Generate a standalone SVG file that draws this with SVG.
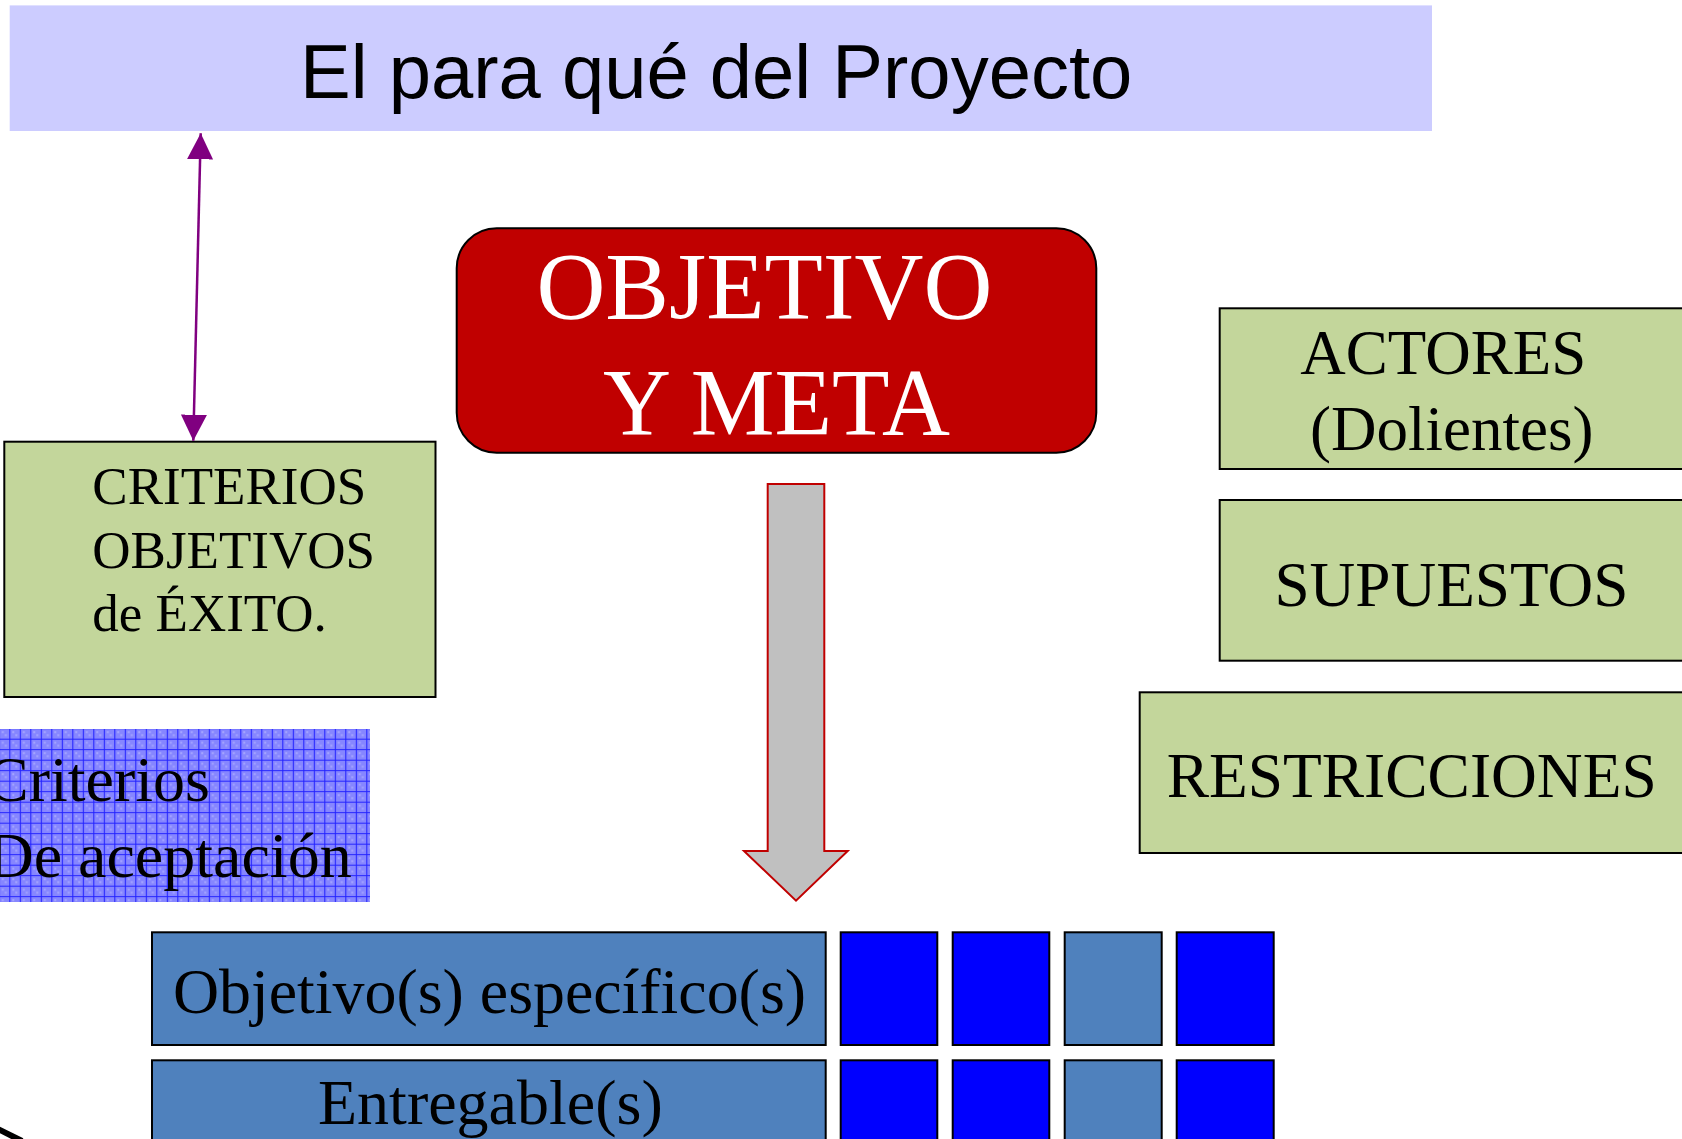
<svg xmlns="http://www.w3.org/2000/svg" width="1682" height="1139" viewBox="0 0 1682 1139">
<style>
.serif{font-family:"Liberation Serif","Times New Roman",serif;fill:#000}
.green{fill:#c3d69b;stroke:#000;stroke-width:2}
.steel{fill:#4f81bd;stroke:#000;stroke-width:2}
.blue{fill:#0000ff;stroke:#000;stroke-width:2}
</style>
<defs>
<marker id="ph" viewBox="0 0 26 26" refX="26" refY="13" markerWidth="26" markerHeight="26" markerUnits="userSpaceOnUse" orient="auto-start-reverse">
<path d="M0,0 L26,13 L0,26 z" fill="#800080"/>
</marker>
<pattern id="grid" patternUnits="userSpaceOnUse" x="9.3" y="3.7" width="10.5" height="10.5">
<rect width="10.5" height="10.5" fill="#8686ff"/>
<rect x="3" y="3" width="2" height="2" fill="#a4a4ff"/>
<rect x="6" y="6" width="2" height="2" fill="#a4a4ff"/>
<path d="M0.5,0 V10.5 M0,0.5 H10.5" stroke="#2222ff" stroke-width="1.1" fill="none"/>
</pattern>
</defs>
<rect width="1682" height="1139" fill="#fff"/>

<g id="title">
<rect x="9.7" y="5.4" width="1422.3" height="125.6" fill="#ccccff"/>
<text x="300" y="97.7" font-family="Liberation Sans, Arial, sans-serif" font-size="76" fill="#000">El para qué del Proyecto</text>
</g>

<g id="criterios-objetivos">
<rect class="green" x="4.3" y="441.7" width="431.2" height="255.3"/>
<text class="serif" font-size="53" x="92.3" y="504">CRITERIOS</text>
<text class="serif" font-size="53" x="92.3" y="567.5">OBJETIVOS</text>
<text class="serif" font-size="53" x="92.3" y="630.7">de ÉXITO.</text>
</g>

<g id="objetivo-meta">
<rect x="456.7" y="228.3" width="639.6" height="224.4" rx="40" ry="40" fill="#c00000" stroke="#000" stroke-width="2"/>
<text font-family="Liberation Serif, Times New Roman, serif" font-size="96" fill="#fff" x="536.4" y="318.6" textLength="456" lengthAdjust="spacingAndGlyphs">OBJETIVO</text>
<text font-family="Liberation Serif, Times New Roman, serif" font-size="96" fill="#fff" x="602.9" y="434.5" textLength="347" lengthAdjust="spacingAndGlyphs">Y META</text>
</g>

<g id="actores">
<rect class="green" x="1219.7" y="308.3" width="480" height="160.7"/>
<text class="serif" font-size="63" x="1300.3" y="374">ACTORES</text>
<text class="serif" font-size="63" x="1310" y="450">(Dolientes)</text>
</g>

<g id="supuestos">
<rect class="green" x="1219.7" y="500" width="480" height="160.7"/>
<text class="serif" font-size="63" x="1274.4" y="605.5" textLength="354" lengthAdjust="spacingAndGlyphs">SUPUESTOS</text>
</g>

<g id="restricciones">
<rect class="green" x="1139.7" y="692.3" width="560" height="160.7"/>
<text class="serif" font-size="63" x="1166.7" y="796.7" textLength="490" lengthAdjust="spacingAndGlyphs">RESTRICCIONES</text>
</g>

<g id="criterios-aceptacion">
<rect x="0" y="729" width="370" height="173" fill="url(#grid)"/>
<text class="serif" font-size="64" x="-14" y="800.7">Criterios</text>
<text class="serif" font-size="64" x="-12.6" y="876.7">De aceptación</text>
</g>

<g id="objetivos-especificos">
<rect class="steel" x="152" y="932.3" width="673.7" height="112.7"/>
<text class="serif" font-size="64" x="173" y="1013" textLength="633" lengthAdjust="spacingAndGlyphs">Objetivo(s) específico(s)</text>
<rect class="blue" x="840.7" y="932.3" width="96.6" height="112.7"/>
<rect class="blue" x="952.7" y="932.3" width="96.6" height="112.7"/>
<rect class="steel" x="1064.7" y="932.3" width="97" height="112.7"/>
<rect class="blue" x="1176.7" y="932.3" width="97" height="112.7"/>
</g>

<g id="entregables">
<rect class="steel" x="152" y="1060.3" width="673.7" height="100"/>
<text class="serif" font-size="64" x="318" y="1124">Entregable(s)</text>
<rect class="blue" x="840.7" y="1060.3" width="96.6" height="100"/>
<rect class="blue" x="952.7" y="1060.3" width="96.6" height="100"/>
<rect class="steel" x="1064.7" y="1060.3" width="97" height="100"/>
<rect class="blue" x="1176.7" y="1060.3" width="97" height="100"/>
</g>

<g id="connectors">
<line x1="200.7" y1="133.3" x2="193.3" y2="440.7" stroke="#800080" stroke-width="2.5" marker-start="url(#ph)" marker-end="url(#ph)"/>
<polygon points="767.7,484 824.3,484 824.3,851 847.7,851 796,900.7 744,851 767.7,851" fill="#c0c0c0" stroke="#c00000" stroke-width="2"/>
</g>

<line x1="-2" y1="1129" x2="22" y2="1141" stroke="#000" stroke-width="6"/>
</svg>
